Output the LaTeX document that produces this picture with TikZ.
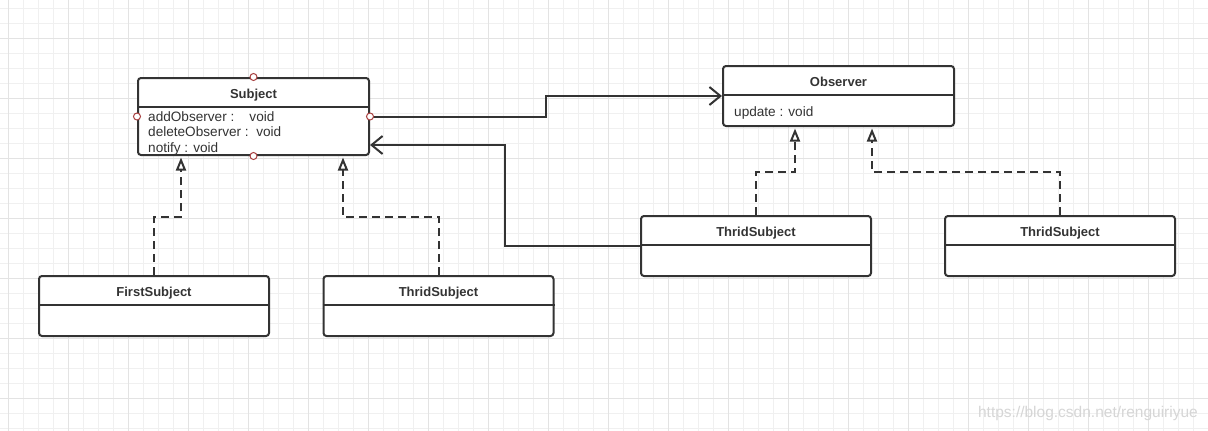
\documentclass[tikz,border=0pt]{standalone}
\usepackage{fontspec}
\setmainfont{Liberation Sans}
\usetikzlibrary{arrows.meta}
\definecolor{ink}{HTML}{333333}
\definecolor{gridfine}{HTML}{F0F0F0}
\definecolor{gridmajor}{HTML}{E3E3E3}
\definecolor{port}{HTML}{A84040}
\definecolor{wm}{HTML}{D6D6D6}
\tikzset{
  classbox/.style={draw=ink, line width=2pt, rounded corners=3pt, inner sep=0pt, minimum width=230pt, minimum height=60pt, fill=white},
  divider/.style={draw=ink, line width=2pt},
  title/.style={font=\fontsize{13}{15}\selectfont\bfseries, text=ink, anchor=base, inner sep=0pt},
  attr/.style={font=\fontsize{13.6}{15}\selectfont, text=ink, anchor=base west, inner sep=0pt},
  assoc/.style={draw=ink, line width=2pt, -{Straight Barb[length=11pt,width=18pt,line width=2pt]}},
  realize/.style={draw=ink, line width=2pt, dash pattern=on 8pt off 5pt, -{Triangle[open,length=13pt,width=10pt,line width=2pt,fill=white]}, shorten >=1.5pt},
  portdot/.style={circle, draw=port, fill=white, line width=1pt, minimum size=7pt, inner sep=0pt}
}
\begin{document}
\begin{tikzpicture}[x=1pt,y=-1pt]
\useasboundingbox (0,0) rectangle (1208,431);
\fill[white] (0,0) rectangle (1208,431);
% grid
\foreach \i in {0,...,80} {
  \pgfmathsetmacro{\gx}{8+15*\i}
  \draw[gridfine, line width=1pt] (\gx,0) -- (\gx,431);
}
\foreach \j in {0,...,28} {
  \pgfmathsetmacro{\gy}{8+15*\j}
  \draw[gridfine, line width=1pt] (0,\gy) -- (1208,\gy);
}
\foreach \i in {0,...,20} {
  \pgfmathsetmacro{\gx}{8+60*\i}
  \draw[gridmajor, line width=1pt] (\gx,0) -- (\gx,431);
}
\foreach \j in {0,...,7} {
  \pgfmathsetmacro{\gy}{38+60*\j}
  \draw[gridmajor, line width=1pt] (0,\gy) -- (1208,\gy);
}
% classes
\node[classbox, minimum width=231pt, minimum height=77pt] (subject) at (253.5,116.5) {};
\node[classbox, minimum width=231pt] (observer) at (838.5,96) {};
\node[classbox] (first) at (154,306) {};
\node[classbox] (thirdA) at (438.5,306) {};
\node[classbox] (thirdB) at (756,246) {};
\node[classbox] (thirdC) at (1060,246) {};
% dividers
\foreach \n in {subject,observer,first,thirdA,thirdB,thirdC} {
  \draw[divider] ([yshift=-29.5pt]\n.north west) -- ([yshift=-29.5pt]\n.north east);
}
% texts
\node[title] (subjectT) at (253.5,98) {Subject};
\node[attr] (a1) at (148,121) {addObserver :\ \ \ \ void};
\node[attr] (a2) at (148,136.5) {deleteObserver :\ \ void};
\node[attr] (a3) at (148,152) {notify : void};
\node[title] (observerT) at (838.5,86.5) {Observer};
\node[attr] (o1) at (734,116.5) {update : void};
\node[title] (firstT) at (154,296) {FirstSubject};
\node[title] (thirdAT) at (438.5,296) {ThridSubject};
\node[title] (thirdBT) at (756,236) {ThridSubject};
\node[title] (thirdCT) at (1060,236) {ThridSubject};
% connectors
\draw[assoc] (subject.east) -| (546,106) |- (observer.west);
\draw[assoc] (thirdB.west) -| (505,145) -- (subject.east |- 0,145);
\draw[realize] (first.north) |- (181,217) -- (subject.south -| 181,0);
\draw[realize] (thirdA.north) |- (343,217) -- (subject.south -| 343,0);
\draw[realize] (thirdB.north) |- (795,172) -- (observer.south -| 795,0);
\draw[realize] (thirdC.north) |- (872,172) -- (observer.south -| 872,0);
% ports on Subject
\node[portdot] (pn) at (subject.north) {};
\node[portdot] (ps) at (subject.south) {};
\node[portdot] (pw) at (subject.west) {};
\node[portdot] (pe) at (subject.east) {};
% watermark
\node[font=\fontsize{15.5}{17}\selectfont, text=wm, anchor=base east, inner sep=0pt] (wmark) at (1198,417) {https://blog.csdn.net/renguiriyue};
\end{tikzpicture}
\end{document}
